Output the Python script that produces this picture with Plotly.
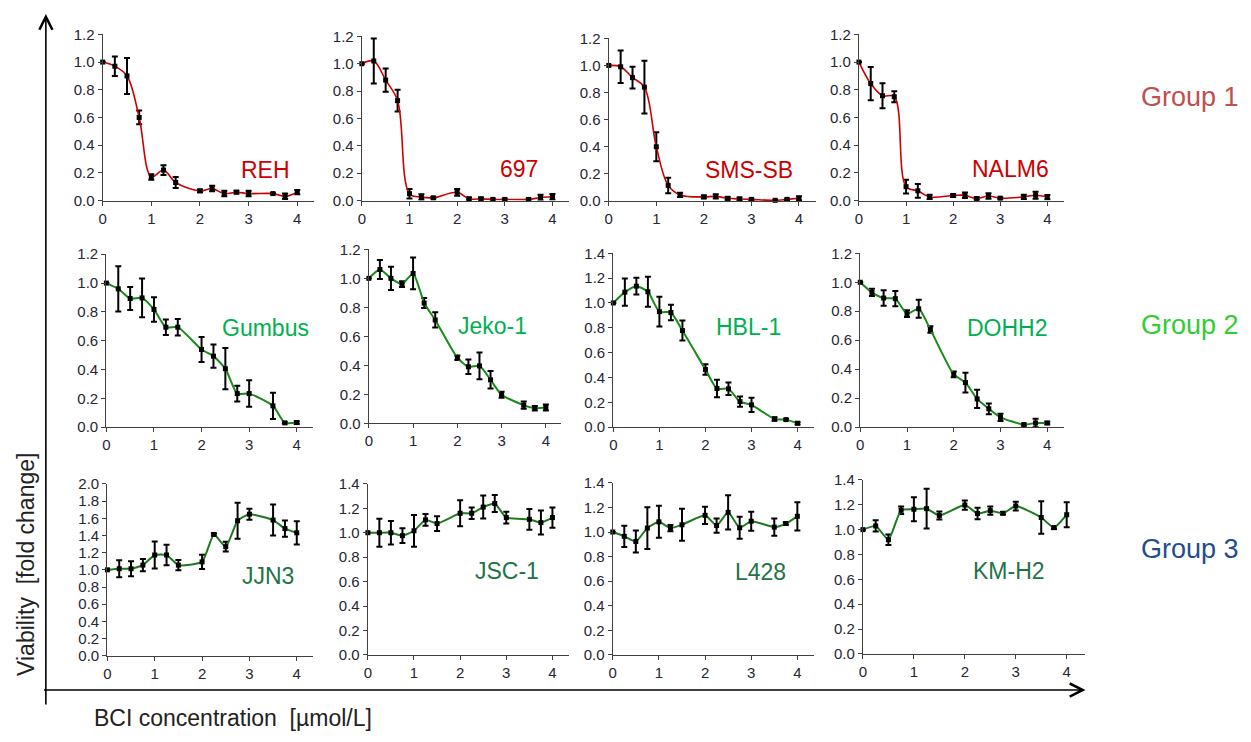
import plotly.graph_objects as go

W, H = 1251, 742

# concentrations (µmol/L); 1.75 and 3.25 not measured
conc = [0, 0.25, 0.5, 0.75, 1.0, 1.25, 1.5, 2.0, 2.25, 2.5, 2.75, 3.0, 3.5, 3.75, 4.0]

# ---- Group 1 ----
reh = [1.00, 0.97, 0.90, 0.60, 0.17, 0.22, 0.13, 0.07, 0.086, 0.05, 0.06, 0.05, 0.05, 0.03, 0.06]
reh_err = [0, 0.07, 0.13, 0.05, 0.02, 0.035, 0.04, 0.01, 0.02, 0.02, 0.01, 0.02, 0.005, 0.02, 0.015]
c697 = [1.00, 1.02, 0.88, 0.73, 0.05, 0.025, 0.02, 0.06, 0.012, 0.012, 0.008, 0.008, 0.008, 0.022, 0.027]
c697_err = [0, 0.165, 0.085, 0.08, 0.035, 0.02, 0.005, 0.025, 0.01, 0.01, 0.005, 0.005, 0.005, 0.02, 0.02]
smssb = [1.00, 0.99, 0.91, 0.84, 0.40, 0.115, 0.045, 0.03, 0.034, 0.02, 0.015, 0.012, 0.005, 0.012, 0.02]
smssb_err = [0, 0.12, 0.08, 0.195, 0.107, 0.057, 0.015, 0.01, 0.015, 0.01, 0.01, 0.005, 0.003, 0.005, 0.015]
nalm6 = [1.00, 0.845, 0.757, 0.75, 0.10, 0.07, 0.026, 0.036, 0.038, 0.014, 0.033, 0.017, 0.026, 0.038, 0.024]
nalm6_err = [0, 0.12, 0.09, 0.04, 0.05, 0.05, 0.015, 0.01, 0.02, 0.01, 0.02, 0.005, 0.015, 0.025, 0.015]

# ---- Group 2 ----
gumbus = [1.00, 0.96, 0.893, 0.897, 0.817, 0.694, 0.694, 0.539, 0.493, 0.406, 0.233, 0.233, 0.148, 0.03, 0.032]
gumbus_err = [0, 0.157, 0.08, 0.134, 0.085, 0.054, 0.057, 0.087, 0.08, 0.143, 0.054, 0.092, 0.091, 0.005, 0.01]
jeko1 = [1.00, 1.061, 1.00, 0.96, 1.034, 0.83, 0.713, 0.452, 0.39, 0.396, 0.30, 0.197, 0.125, 0.104, 0.109]
jeko1_err = [0, 0.066, 0.08, 0.02, 0.11, 0.035, 0.053, 0.015, 0.05, 0.093, 0.06, 0.02, 0.025, 0.015, 0.02]
hbl1 = [1.00, 1.087, 1.135, 1.09, 0.93, 0.923, 0.778, 0.464, 0.311, 0.309, 0.206, 0.18, 0.066, 0.061, 0.032]
hbl1_err = [0, 0.11, 0.067, 0.12, 0.12, 0.062, 0.08, 0.042, 0.07, 0.05, 0.042, 0.057, 0.015, 0.005, 0.01]
dohh2 = [1.00, 0.93, 0.891, 0.887, 0.783, 0.817, 0.674, 0.364, 0.308, 0.195, 0.127, 0.068, 0.018, 0.029, 0.029]
dohh2_err = [0, 0.025, 0.053, 0.053, 0.023, 0.062, 0.023, 0.02, 0.068, 0.063, 0.037, 0.025, 0.006, 0.03, 0.008]

# ---- Group 3 ----
jjn3 = [1.00, 1.013, 1.013, 1.055, 1.173, 1.173, 1.055, 1.093, 1.412, 1.27, 1.571, 1.647, 1.579, 1.48, 1.431]
jjn3_err = [0, 0.1, 0.087, 0.07, 0.157, 0.12, 0.06, 0.083, 0.015, 0.057, 0.21, 0.063, 0.18, 0.095, 0.135]
jsc1 = [1.00, 1.00, 1.00, 0.976, 1.016, 1.105, 1.075, 1.159, 1.159, 1.21, 1.239, 1.124, 1.11, 1.083, 1.124]
jsc1_err = [0, 0.115, 0.097, 0.06, 0.13, 0.048, 0.06, 0.107, 0.047, 0.094, 0.07, 0.048, 0.085, 0.098, 0.083]
l428 = [1.00, 0.965, 0.923, 1.032, 1.083, 1.032, 1.059, 1.136, 1.053, 1.16, 1.035, 1.088, 1.04, 1.069, 1.128]
l428_err = [0, 0.087, 0.09, 0.17, 0.13, 0.025, 0.13, 0.07, 0.058, 0.14, 0.09, 0.077, 0.07, 0.01, 0.115]
kmh2 = [1.00, 1.03, 0.919, 1.156, 1.164, 1.169, 1.114, 1.198, 1.13, 1.153, 1.132, 1.19, 1.098, 1.016, 1.12]
kmh2_err = [0, 0.045, 0.042, 0.03, 0.096, 0.16, 0.033, 0.037, 0.046, 0.033, 0.01, 0.035, 0.13, 0.01, 0.1]

cell_lines = ["REH", "697", "SMS-SB", "NALM6",
              "Gumbus", "Jeko-1", "HBL-1", "DOHH2",
              "JJN3", "JSC-1", "L428", "KM-H2"]
values = [reh, c697, smssb, nalm6, gumbus, jeko1, hbl1, dohh2, jjn3, jsc1, l428, kmh2]
errors = [reh_err, c697_err, smssb_err, nalm6_err, gumbus_err, jeko1_err, hbl1_err, dohh2_err,
          jjn3_err, jsc1_err, l428_err, kmh2_err]
y_max = [1.2, 1.2, 1.2, 1.2, 1.2, 1.2, 1.4, 1.2, 2.0, 1.4, 1.4, 1.4]
group_names = ["Group 1", "Group 2", "Group 3"]

# ---- layout geometry (pixels) ----
# x0 (pixel of x=0), px per unit, y-pixel of top (ymax), y-pixel of 0
geom = [
    (99, 48.8, 26, 196), (359, 47.8, 28, 196), (606.7, 47.7, 30, 196.5), (857.7, 47.25, 26, 196),
    (102.7, 47.75, 251, 428), (366, 44.4, 246, 424), (611.3, 46.2, 250, 428), (859, 46.9, 250, 428),
    (103.7, 47.5, 486, 662), (365, 46.3, 486, 661), (610.7, 46.3, 485, 661), (861.7, 51.1, 482, 660),
]
label_pos = [(262, 165), (517, 164), (747, 165), (1010, 164),
             (262, 326), (490, 324), (747, 325), (1007, 326),
             (265, 580), (505, 575), (759, 576), (1008, 575)]
XMAX = 4.35

line_colors = ["#cc0000", "#1a8a1a", "#1f7a1f"]
label_colors = ["#cc0000", "#00b050", "#217346"]
group_colors = ["#c0504d", "#33cc33", "#1f4e8c"]
smooth = [1.0, 0.6, 0.5]
line_w = [1.6, 2, 2]

fig = go.Figure()
layout = dict(width=W, height=H, margin=dict(l=0, r=0, t=0, b=0),
              paper_bgcolor="white", plot_bgcolor="rgba(0,0,0,0)", showlegend=False,
              font=dict(family="Arial, Liberation Sans, sans-serif", color="#262626"))
annotations = []


def px(x, y):
    return x / W, 1 - y / H


for i, name in enumerate(cell_lines):
    g = i // 4
    n = i + 1
    x0, unit, top, bot = geom[i]
    xa = "x" if n == 1 else f"x{n}"
    ya = "y" if n == 1 else f"y{n}"
    fig.add_trace(go.Scatter(
        x=conc, y=values[i], xaxis=xa, yaxis=ya, mode="lines+markers",
        line=dict(color=line_colors[g], width=line_w[g], shape="spline", smoothing=smooth[g]),
        marker=dict(symbol="square", size=5, color="black"),
        error_y=dict(type="data", array=errors[i], color="black", thickness=2, width=3),
        cliponaxis=False, hoverinfo="skip"))
    axis_common = dict(showline=True, linecolor="#404040", linewidth=1.3, ticks="outside",
                       tickcolor="#404040", ticklen=4, tickwidth=1.2, showgrid=False, zeroline=False,
                       tickfont=dict(size=15, color="#262633"), fixedrange=True)
    layout["xaxis" if n == 1 else f"xaxis{n}"] = dict(
        domain=[x0 / W, (x0 + XMAX * unit) / W], range=[0, XMAX],
        tickvals=[0, 1, 2, 3, 4], anchor=ya, **axis_common)
    layout["yaxis" if n == 1 else f"yaxis{n}"] = dict(
        domain=[1 - bot / H, 1 - top / H], range=[0, y_max[i]], dtick=0.2, tick0=0,
        tickformat=".1f", anchor=xa, **axis_common)
    lx, ly = px(*label_pos[i])
    annotations.append(dict(x=lx, y=ly, xref="paper", yref="paper", text=name,
                            xanchor="center", yanchor="middle",
                            showarrow=False, font=dict(size=23, color=label_colors[g])))

for g, gname in enumerate(group_names):
    gx, gy = px(1190, [90, 323, 553][g])
    annotations.append(dict(x=gx, y=gy, xref="paper", yref="paper", text=gname,
                            xanchor="center", yanchor="middle",
                            showarrow=False, font=dict(size=27, color=group_colors[g])))

# big axis arrows
hx, hy = px(42, 5)
annotations.append(dict(x=hx, y=hy, xref="paper", yref="paper", text="",
                        showarrow=True, ax=0, ay=692, arrowhead=5, arrowsize=1.6,
                        arrowwidth=1.6, arrowcolor="black"))
hx, hy = px(1085, 697)
annotations.append(dict(x=hx, y=hy, xref="paper", yref="paper", text="",
                        showarrow=True, ax=-1043, ay=0, arrowhead=5, arrowsize=1.6,
                        arrowwidth=1.6, arrowcolor="black"))
tx, ty = px(230, 726)
annotations.append(dict(x=tx, y=ty, xref="paper", yref="paper",
                        text="BCI concentration  [µmol/L]", showarrow=False,
                        xanchor="center", yanchor="middle",
                        font=dict(size=23, color="#222222")))
tx, ty = px(22, 568)
annotations.append(dict(x=tx, y=ty, xref="paper", yref="paper",
                        text="Viability  [fold change]", showarrow=False, textangle=-90,
                        xanchor="center", yanchor="middle",
                        font=dict(size=23, color="#222222")))

layout["annotations"] = annotations
fig.update_layout(**layout)
fig.write_html("out.html", config={"displayModeBar": False},
               post_script="document.body.style.margin='0';document.body.style.overflow='hidden';")
